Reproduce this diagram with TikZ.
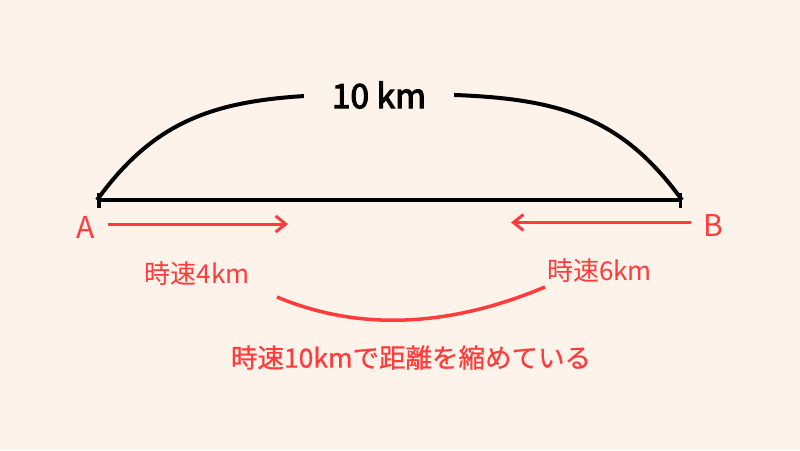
\documentclass[tikz,border=0pt]{standalone}
\usepackage{fontspec}
\setmainfont{Noto Sans CJK JP}
\newfontfamily\kmfont{Noto Sans CJK JP}[FakeBold=3.5]
\newfontfamily\notefont{Noto Sans CJK JP}[FakeBold=0.6]
\usetikzlibrary{arrows.meta}

\definecolor{bg}{HTML}{FDF3EA}
\definecolor{redline}{HTML}{FF3B3B}

\tikzset{
  redarrow/.style={redline,line width=3pt,-{Straight Barb[length=10pt,width=16pt]}},
  redtext/.style={redline,inner sep=0pt,font=\fontsize{26}{30}\selectfont},
  pointlabel/.style={redline,inner sep=0pt,font=\fontsize{30}{36}\selectfont}
}

\begin{document}
\begin{tikzpicture}[x=1pt,y=-1pt]
\fill[bg] (0,0) rectangle (800,450);
\useasboundingbox (0,0) rectangle (800,450);

% end points of the road
\coordinate (pA) at (97,200);
\coordinate (pB) at (682,200);
\coordinate (top) at (390,94);

% distance line and arc
\draw[line width=3.5pt,{Bar[width=15pt]}-{Bar[width=15pt]}] (pA) -- (pB);
\draw[line width=4pt] (pA) .. controls (167,103.5) and (240,94) .. (top)
  .. controls (540,94) and (612,103.5) .. (pB);
\node[fill=bg,minimum width=150pt,minimum height=30pt,inner sep=0pt,
  font=\fontsize{33.5}{40}\kmfont] (dist) at (379,95) {10 km};

% the two points
\node[pointlabel] (A) at (85.5,227.5) {A};
\node[pointlabel] (B) at (713,226) {B};

% directions of travel
\coordinate (a1) at (108,224);
\coordinate (a2) at (288,224);
\coordinate (b1) at (691,222.5);
\coordinate (b2) at (511,222.5);
\draw[redarrow] (a1) -- (a2);
\draw[redarrow] (b1) -- (b2);

% speeds
\node[redtext] (vA) at (197,273.5) {時速4km};
\node[redtext] (vB) at (599.5,271) {時速6km};

\coordinate (s1) at (277,297);
\coordinate (s2) at (545,287);
\draw[redline,line width=3.5pt] (s1) .. controls (358,331) and (448,327.7) .. (s2);

\node[redtext,font=\fontsize{26.5}{30}\notefont] (sum) at (411,357.5) {時速10kmで距離を縮めている};
\end{tikzpicture}
\end{document}
